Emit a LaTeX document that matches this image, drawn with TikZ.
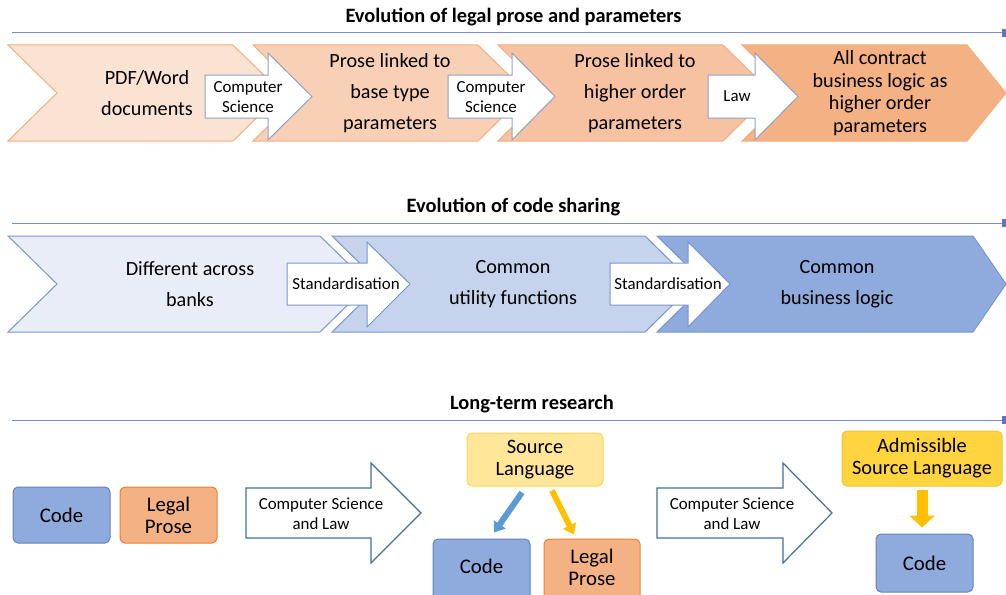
\documentclass[tikz,border=0pt]{standalone}
\usepackage{fontspec}
\setmainfont{Carlito}
\usetikzlibrary{arrows.meta}
\definecolor{lineblue}{HTML}{6F8FCF}
\definecolor{oA}{HTML}{FBE3D3}
\definecolor{oB}{HTML}{F8D0B5}
\definecolor{oC}{HTML}{F6C2A1}
\definecolor{oD}{HTML}{F4B183}
\definecolor{oEdge}{HTML}{F4AE7E}
\definecolor{bA}{HTML}{E9EDF7}
\definecolor{bB}{HTML}{C5D3EC}
\definecolor{bC}{HTML}{8FAADC}
\definecolor{bEdge}{HTML}{7896CC}
\definecolor{arrEdge}{HTML}{8EA2C6}
\definecolor{bigEdge}{HTML}{41719C}
\definecolor{codeFill}{HTML}{8FAADC}
\definecolor{codeEdge}{HTML}{6283C0}
\definecolor{proseFill}{HTML}{F4B183}
\definecolor{proseEdge}{HTML}{ED7D31}
\definecolor{srcFill}{HTML}{FFE699}
\definecolor{srcEdge}{HTML}{FFD54F}
\definecolor{admFill}{HTML}{FFD43F}
\definecolor{admEdge}{HTML}{F2C232}
\definecolor{arrBlue}{HTML}{5B9BD5}
\definecolor{arrGold}{HTML}{FFC000}
\tikzset{
  titletext/.style={font=\fontsize{20.4}{22}\selectfont\bfseries, inner sep=0pt},
  bodytext/.style={font=\fontsize{20.2}{31}\selectfont, align=center, inner sep=0pt},
  bodytight/.style={font=\fontsize{20.2}{22.5}\selectfont, align=center, inner sep=0pt},
  labeltext/.style={font=\fontsize{16.9}{20}\selectfont, align=center, inner sep=0pt},
  timeline/.style={draw=lineblue, line width=1pt},
  smallarrow/.style={draw=arrEdge, fill=white, line width=1pt},
  bigarrow/.style={draw=bigEdge, fill=white, line width=1.2pt},
  codebox/.style={draw=codeEdge, fill=codeFill, rounded corners=5pt, line width=1pt,
    font=\fontsize{20.8}{22}\selectfont, align=center, inner sep=0pt},
  prosebox/.style={draw=proseEdge, fill=proseFill, rounded corners=5pt, line width=1pt,
    font=\fontsize{20.8}{22}\selectfont, align=center, inner sep=0pt},
  srcbox/.style={draw=srcEdge, fill=srcFill, rounded corners=5pt, line width=1pt,
    font=\fontsize{20.4}{22}\selectfont, align=center, inner sep=0pt},
  admbox/.style={draw=admEdge, fill=admFill, rounded corners=5pt, line width=1pt,
    font=\fontsize{20.4}{22}\selectfont, align=center, inner sep=0pt},
}
\newcommand{\chev}[7]{% style, x0, x1, tip, top, bottom, depth
  \path[#1] (#2,#5) -- (#3,#5) -- (#4,{(#5+#6)/2}) -- (#3,#6) -- (#2,#6) -- ({#2+#7},{(#5+#6)/2}) -- cycle;}
\newcommand{\blockarr}[9]{% style, bx, btop, bbot, hx, htop, hbot, tx, ty
  \path[#1] (#2,#3) -- (#5,#3) -- (#5,#6) -- (#8,#9) -- (#5,#7) -- (#5,#4) -- (#2,#4) -- cycle;}
\begin{document}
\begin{tikzpicture}[x=1pt,y=-1pt]
\useasboundingbox (0,0) rectangle (1006,594);
\clip (0,0) rectangle (1006,594);

% ---------- Row 1 ----------
\node[titletext] (t1) at (513.5,17) {Evolution of legal prose and parameters};
\coordinate (l1a) at (12,33);
\coordinate (l1b) at (1003,33);
\draw[timeline] (l1a) -- (l1b);
\fill[lineblue!80!blue] (1002,29) rectangle (1006,37);

\chev{draw=oEdge, fill=oA, line width=1pt}{8}{233}{282}{45}{141}{49}
\chev{draw=oEdge, fill=oB, line width=1pt}{253}{478}{527}{45}{141}{49}
\chev{draw=oEdge, fill=oC, line width=1pt}{498}{723}{772}{45}{141}{49}
\chev{draw=oEdge, fill=oD, line width=1pt}{742}{967}{1006}{45}{141}{49}

\node[bodytext] (c11) at (147,93) {PDF/Word\\documents};
\node[bodytext] (c12) at (390,93) {Prose linked to\\base type\\parameters};
\node[bodytext] (c13) at (635,93) {Prose linked to\\higher order\\parameters};
\node[bodytight] (c14) at (880,93) {All contract\\business logic as\\higher order\\parameters};

\blockarr{smallarrow}{205}{75}{118}{268}{53}{140}{312}{96.5}
\blockarr{smallarrow}{448}{75}{118}{512}{53}{140}{555}{96.5}
\blockarr{smallarrow}{708}{75}{118}{755}{53}{140}{798}{96.5}
\node[labeltext] (a11) at (248,97) {Computer\\Science};
\node[labeltext] (a12) at (491,97) {Computer\\Science};
\node[labeltext] (a13) at (737,96) {Law};

% ---------- Row 2 ----------
\node[titletext] (t2) at (513.5,207) {Evolution of code sharing};
\coordinate (l2a) at (12,223);
\coordinate (l2b) at (1003,223);
\draw[timeline] (l2a) -- (l2b);
\fill[lineblue!80!blue] (1002,219) rectangle (1006,227);

\chev{draw=bEdge, fill=bA, line width=1pt}{8}{320}{369}{236}{332}{49}
\chev{draw=bEdge, fill=bB, line width=1pt}{332}{645}{694}{236}{332}{49}
\chev{draw=bEdge, fill=bC, line width=1pt}{657}{973}{1006}{236}{332}{49}

\node[bodytext] (c21) at (190,284) {Different across\\banks};
\node[bodytext] (c22) at (513,284) {Common\\utility functions};
\node[bodytext] (c23) at (837,284) {Common\\business logic};

\blockarr{draw=bEdge, fill=white, line width=1pt}{287}{263}{305}{367}{242}{327}{410}{284}
\blockarr{draw=bEdge, fill=white, line width=1pt}{610}{263}{305}{688}{242}{327}{730}{284}
\node[labeltext] (a21) at (346,284) {Standardisation};
\node[labeltext] (a22) at (668,284) {Standardisation};

% ---------- Row 3 ----------
\node[titletext] (t3) at (532,404) {Long-term research};
\coordinate (l3a) at (12,420);
\coordinate (l3b) at (1003,420);
\draw[timeline] (l3a) -- (l3b);
\fill[lineblue!80!blue] (1002,416) rectangle (1006,424);

\node[codebox, minimum width=97pt, minimum height=56pt] (code1) at (61.5,515) {Code};
\node[prosebox, minimum width=97pt, minimum height=56pt] (prose1) at (168.5,515) {Legal\\Prose};

\blockarr{bigarrow}{246}{488}{538}{371}{463}{563}{421}{513}
\node[labeltext] (a31) at (321,514) {Computer Science\\and Law};

\node[srcbox, minimum width=136pt, minimum height=53pt] (src) at (535,459.5) {Source\\Language};
\node[codebox, minimum width=97pt, minimum height=62pt] (code2) at (481.5,570) {};
\node[prosebox, minimum width=96pt, minimum height=62pt] (prose2) at (592,570) {};
\node[font=\fontsize{20.8}{22}\selectfont, inner sep=0pt] (code2t) at (481.5,566) {Code};
\node[font=\fontsize{20.8}{22}\selectfont, align=center, inner sep=0pt] (prose2t) at (592,567) {Legal\\Prose};

\draw[arrBlue, line width=6pt, -{Triangle[width=14pt,length=10pt]}]
  ([shift={(-13,6)}]src.south) -- ([shift={(12.5,-6)}]code2.north);
\draw[arrGold, line width=6pt, -{Triangle[width=14pt,length=10pt]}]
  ([shift={(17,4)}]src.south) -- ([shift={(-18,-4)}]prose2.north);

\blockarr{bigarrow}{657}{488}{538}{783}{463}{563}{832}{513}
\node[labeltext] (a32) at (732,514) {Computer Science\\and Law};

\node[admbox, minimum width=160pt, minimum height=55pt] (adm) at (922,458.5) {Admissible\\Source Language};
\node[codebox, minimum width=97pt, minimum height=58pt] (code3) at (924.5,563) {Code};
\draw[arrGold, line width=11pt, -{Triangle[width=25pt,length=12pt]}]
  ([shift={(0,3)}]adm.south) -- ([shift={(-2.5,-6)}]code3.north);
\end{tikzpicture}
\end{document}
